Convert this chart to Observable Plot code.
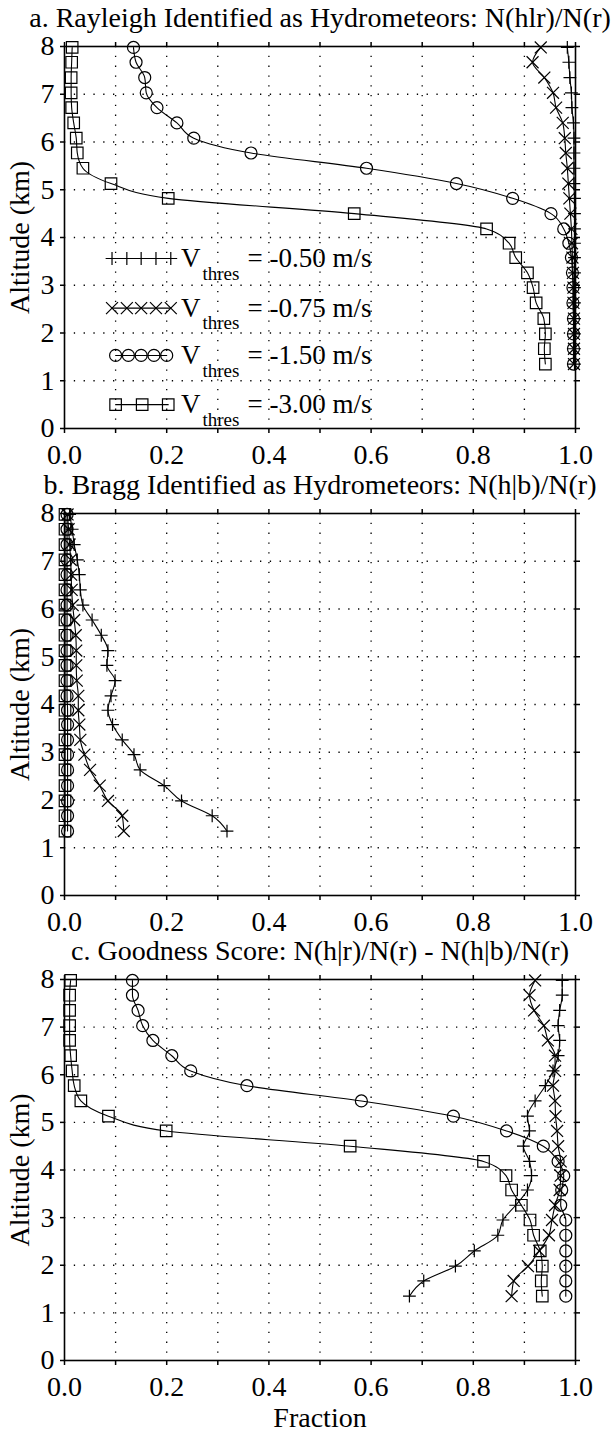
<!DOCTYPE html>
<html><head><meta charset="utf-8">
<script src="https://cdn.jsdelivr.net/npm/d3@7"></script>
<script src="https://cdn.jsdelivr.net/npm/@observablehq/plot@0.6"></script>
<style>
html,body{margin:0;padding:0;background:#fff;}
#chart{width:616px;}
#chart svg{display:block;font-family:"Liberation Serif","Times New Roman",serif !important;}
#chart svg text{font-family:"Liberation Serif","Times New Roman",serif !important;}
</style></head><body><div id="chart"></div>
<script>
// Altitude levels (km), bottom to top
const altitude = [1.35,1.67,1.98,2.30,2.63,2.95,3.26,3.58,3.88,4.18,4.50,4.82,5.13,5.45,5.77,6.08,6.40,6.72,7.03,7.35,7.67,7.98];

// Threshold velocities (legend labels)
const thresholds = ["-0.50","-0.75","-1.50","-3.00"];

// Panel a: Rayleigh identified as hydrometeors
const rayleigh050 = [0.998,0.998,0.998,0.998,0.998,0.998,0.998,0.998,0.998,0.998,0.998,0.998,0.997,0.997,0.997,0.997,0.996,0.993,0.992,0.989,0.987,0.984];
const rayleigh075 = [0.997,0.997,0.997,0.997,0.996,0.996,0.995,0.994,0.993,0.992,0.990,0.988,0.986,0.984,0.981,0.979,0.975,0.962,0.956,0.939,0.916,0.932];
const rayleigh150 = [0.996,0.996,0.996,0.996,0.995,0.995,0.994,0.992,0.987,0.977,0.952,0.877,0.767,0.591,0.365,0.253,0.220,0.181,0.160,0.157,0.140,0.135];
const rayleigh300 = [0.941,0.939,0.941,0.938,0.923,0.917,0.906,0.883,0.870,0.826,0.567,0.203,0.091,0.036,0.025,0.023,0.018,0.014,0.013,0.013,0.014,0.015];

// Panel b: Bragg identified as hydrometeors
const bragg050 = [0.318,0.289,0.229,0.195,0.148,0.136,0.113,0.094,0.085,0.091,0.099,0.083,0.085,0.072,0.054,0.036,0.031,0.029,0.025,0.019,0.015,0.010];
const bragg075 = [0.116,0.113,0.085,0.069,0.050,0.039,0.031,0.029,0.027,0.027,0.024,0.023,0.023,0.022,0.019,0.016,0.014,0.013,0.012,0.010,0.008,0.006];
const bragg150 = [0.006,0.006,0.006,0.006,0.006,0.006,0.006,0.006,0.006,0.005,0.005,0.005,0.005,0.005,0.005,0.005,0.005,0.005,0.005,0.005,0.005,0.005];
const bragg300 = [0.001,0.001,0.001,0.001,0.001,0.001,0.001,0.001,0.001,0.001,0.001,0.001,0.001,0.001,0.001,0.001,0.001,0.001,0.001,0.001,0.001,0.001];

// Panel c: goodness score
const good050 = [0.675,0.703,0.765,0.802,0.848,0.858,0.883,0.906,0.914,0.910,0.898,0.910,0.906,0.921,0.941,0.956,0.966,0.969,0.966,0.969,0.974,0.974];
const good075 = [0.875,0.879,0.907,0.929,0.948,0.954,0.960,0.969,0.971,0.971,0.966,0.964,0.961,0.960,0.956,0.960,0.960,0.946,0.938,0.919,0.910,0.921];
const good150 = [0.981,0.981,0.981,0.981,0.981,0.981,0.971,0.973,0.977,0.966,0.937,0.865,0.761,0.581,0.357,0.247,0.210,0.173,0.153,0.144,0.133,0.133];
const good300 = [0.935,0.933,0.935,0.931,0.918,0.911,0.894,0.875,0.864,0.820,0.559,0.199,0.086,0.032,0.019,0.015,0.012,0.010,0.010,0.010,0.010,0.012];

// Ticks
const xTicks = [0,0.1,0.2,0.3,0.4,0.5,0.6,0.7,0.8,0.9,1.0];
const xGrid = [0.1,0.2,0.3,0.4,0.5,0.6,0.7,0.8,0.9];
const yTicks = [0,1,2,3,4,5,6,7,8];
const yGrid = [1,2,3,4,5,6,7];

const titles = [
  "a. Rayleigh Identified as Hydrometeors: N(hlr)/N(r)",
  "b. Bragg Identified as Hydrometeors: N(h|b)/N(r)",
  "c. Goodness Score: N(h|r)/N(r) - N(h|b)/N(r)"
];

// Styling (not data)
const symbols = ["plus","times","circle","square"];
const symbolR = [4.2,5.5,6,6.5];
const FONT = "'Liberation Serif','Times New Roman',serif";

const panelSeries = [
  [rayleigh050, rayleigh075, rayleigh150, rayleigh300],
  [bragg050, bragg075, bragg150, bragg300],
  [good050, good075, good150, good300]
];
const layouts = [
  {height:466, top:46, bottom:38, legend:true, xlabel:false},
  {height:466, top:47, bottom:37, legend:false, xlabel:false},
  {height:499, top:47, bottom:71, legend:false, xlabel:true}
];

// legend layout (positions in plot coordinates)
const legendAlt = [3.56,2.52,1.53,0.5];
const legendMarkX = [
  [0.093,0.122,0.150,0.179,0.208],
  [0.093,0.122,0.150,0.179,0.208],
  [0.100,0.125,0.150,0.175,0.200],
  [0.100,0.152,0.203]
];

const fmtX = d => (Math.round(d*10) % 2 === 0) ? d.toFixed(1) : "";
const dotted = {stroke:"#000", strokeOpacity:1, strokeWidth:1.3, strokeDasharray:"1.3,8.5"};

panelSeries.forEach((series, p) => {
  const L = layouts[p];
  const marks = [
    Plot.gridX({ticks: xGrid, ...dotted}),
    Plot.gridY({ticks: yGrid, ...dotted})
  ];
  series.forEach((vals, s) => {
    const rows = altitude.map((alt, i) => ({alt, v: vals[i]}));
    marks.push(Plot.line(rows, {x:"v", y:"alt", curve:"monotone-y", stroke:"#000", strokeWidth:1.1}));
    marks.push(Plot.dot(rows, {x:"v", y:"alt", symbol: symbols[s], r: symbolR[s], stroke:"#000", fill:"none", strokeWidth:1.2}));
  });
  if (L.legend) {
    thresholds.forEach((name, s) => {
      const rows = legendMarkX[s].map(x => ({x, alt: legendAlt[s]}));
      marks.push(Plot.line(rows, {x:"x", y:"alt", stroke:"#000", strokeWidth:1.1}));
      marks.push(Plot.dot(rows, {x:"x", y:"alt", symbol: symbols[s], r: symbolR[s], stroke:"#000", fill:"none", strokeWidth:1.2}));
      const item = [{alt: legendAlt[s], name}];
      marks.push(Plot.text(item, {x: 0.228, y:"alt", text: () => "V", textAnchor:"start", lineAnchor:"middle", fontSize:27}));
      marks.push(Plot.text(item, {x: 0.270, y:"alt", dy: 15, text: () => "thres", textAnchor:"start", lineAnchor:"middle", fontSize:19}));
      marks.push(Plot.text(item, {x: 0.358, y:"alt", text: d => "= " + d.name + " m/s", textAnchor:"start", lineAnchor:"middle", fontSize:27}));
    });
  }
  marks.push(Plot.frame({stroke:"#000", strokeWidth:1.6}));
  marks.push(Plot.axisX({anchor:"bottom", ticks: xTicks, tickFormat: fmtX, tickSize:5, tickPadding:11, strokeWidth:1.5, label:null, fontSize:28}));
  marks.push(Plot.axisX({anchor:"top", ticks: xTicks, tickFormat: () => "", tickSize:5, strokeWidth:1.5, label:null}));
  marks.push(Plot.axisY({anchor:"left", ticks: yTicks, tickFormat: d => String(d), tickSize:4, tickPadding:6, strokeWidth:1.5, label:null, fontSize:28}));
  marks.push(Plot.axisY({anchor:"right", ticks: yTicks, tickFormat: () => "", tickSize:4, strokeWidth:1.5, label:null}));
  marks.push(Plot.text([titles[p]], {frameAnchor:"top", textAnchor:"middle", lineAnchor:"middle", dy:-28, fontSize:28}));
  marks.push(Plot.text(["Altitude (km)"], {frameAnchor:"left", textAnchor:"middle", lineAnchor:"middle", dx:-44, rotate:-90, fontSize:28}));
  if (L.xlabel) marks.push(Plot.text(["Fraction"], {frameAnchor:"bottom", textAnchor:"middle", lineAnchor:"middle", dy:58, fontSize:28}));

  const svg = Plot.plot({
    width: 616, height: L.height,
    marginLeft: 64, marginRight: 41, marginTop: L.top, marginBottom: L.bottom,
    x: {domain:[0,1]},
    y: {domain:[0,8]},
    style: {fontFamily: FONT, fontSize:"28px", background:"#fff", color:"#000", overflow:"visible"},
    marks
  });
  document.getElementById("chart").appendChild(svg);
});
</script>
</body></html>
